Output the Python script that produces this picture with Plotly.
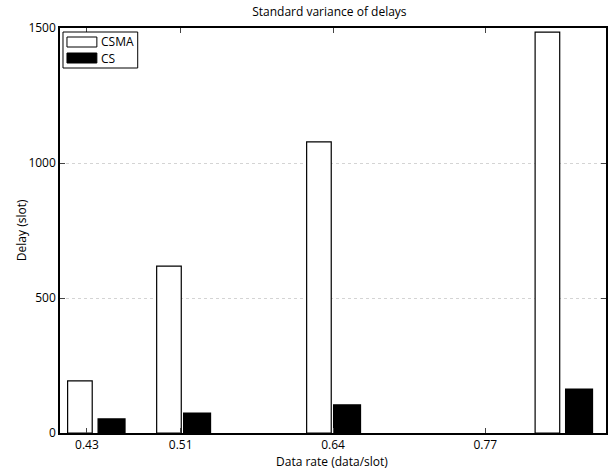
import plotly.graph_objects as go

# Data
data_rates = [0.43, 0.51, 0.64, 0.77]          # tick labels
tick_labels = ["0.43", "0.51", "0.64", "0.77"]
csma_x = [0.424, 0.500, 0.628, 0.823]           # bar positions (data units)
cs_x = [0.451, 0.524, 0.652, 0.850]
csma_vals = [193, 618, 1078, 1485]
cs_vals = [52, 74, 104, 163]
series_names = ["CSMA", "CS"]

font = "Open Sans, Liberation Sans, sans-serif"

W, H = 610, 470
ML, MR, MT, MB = 60, 2, 28, 37
PW, PH = W - ML - MR, H - MT - MB


def px(x):
    return (x - ML) / PW


def py(y):
    return 1 - (y - MT) / PH


fig = go.Figure()
fig.add_trace(go.Bar(x=csma_x, y=csma_vals, name=series_names[0], width=0.021,
                     marker=dict(color="white", line=dict(color="black", width=1.2))))
fig.add_trace(go.Bar(x=cs_x, y=cs_vals, name=series_names[1], width=0.023,
                     marker=dict(color="black", line=dict(color="black", width=1.2))))

# Custom legend (MATLAB style wide swatches)
shapes = [
    dict(type="rect", xref="paper", yref="paper", x0=px(63), x1=px(138),
         y0=py(68), y1=py(32), line=dict(color="black", width=1), fillcolor="white"),
    dict(type="rect", xref="paper", yref="paper", x0=px(67), x1=px(97),
         y0=py(47), y1=py(37), line=dict(color="black", width=1), fillcolor="white"),
    dict(type="rect", xref="paper", yref="paper", x0=px(67), x1=px(97),
         y0=py(63), y1=py(53), line=dict(color="black", width=1), fillcolor="black"),
]
annotations = [
    dict(text=series_names[0], xref="paper", yref="paper", x=px(99), y=py(42),
         xanchor="left", yanchor="middle", showarrow=False, font=dict(size=12)),
    dict(text=series_names[1], xref="paper", yref="paper", x=px(99), y=py(58),
         xanchor="left", yanchor="middle", showarrow=False, font=dict(size=12)),
    dict(text="Data rate (data/slot)", xref="paper", yref="paper", x=px(333),
         y=py(461), xanchor="center", yanchor="middle", showarrow=False,
         font=dict(size=12)),
    dict(text="Delay (slot)", xref="paper", yref="paper", x=px(21),
         y=py(230), xanchor="center", yanchor="middle", showarrow=False,
         textangle=-90, font=dict(size=12)),
]

fig.update_layout(
    width=W, height=H,
    margin=dict(l=ML, r=MR, t=MT, b=MB),
    paper_bgcolor="white", plot_bgcolor="white",
    font=dict(family=font, size=12, color="black"),
    title=dict(text="Standard variance of delays", x=0.54, xanchor="center",
               y=0.975, yanchor="middle", font=dict(size=12)),
    barmode="overlay",
    showlegend=False,
    shapes=shapes,
    annotations=annotations,
    xaxis=dict(range=[0.407, 0.873], tickmode="array", tickvals=data_rates,
               ticktext=tick_labels, ticks="inside", ticklen=5, showgrid=False,
               showline=True, linecolor="black", linewidth=1.5, mirror="ticks",
               zeroline=False),
    yaxis=dict(range=[0, 1500], tickvals=[0, 500, 1000, 1500], ticks="inside",
               ticklen=5, showgrid=True, gridcolor="#d4d4d4", griddash="dot",
               gridwidth=1, showline=True, linecolor="black", linewidth=1.5,
               mirror="ticks", zeroline=False),
)

fig.write_html("out.html")
